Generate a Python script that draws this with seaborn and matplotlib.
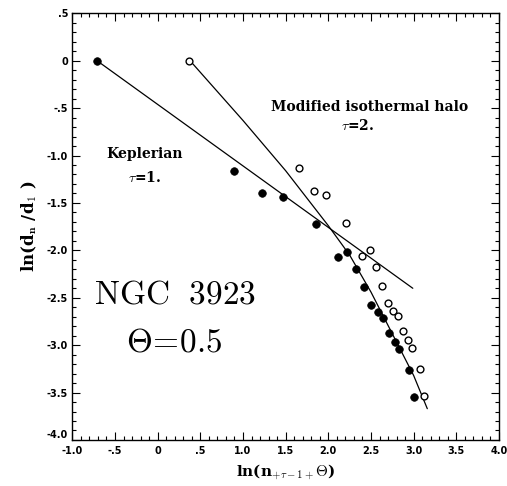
import numpy as np
import pandas as pd
import seaborn as sns
import matplotlib.pyplot as plt
from matplotlib.ticker import MultipleLocator, FixedLocator

# Keplerian (tau=1), filled circles
kep_x = [-0.71, 0.89, 1.22, 1.47, 1.85, 2.11, 2.22, 2.33, 2.42, 2.50, 2.58, 2.64, 2.71, 2.78, 2.83, 2.94, 3.00]
kep_y = [0.00, -1.16, -1.40, -1.44, -1.72, -2.07, -2.02, -2.20, -2.39, -2.58, -2.65, -2.71, -2.87, -2.97, -3.04, -3.26, -3.55]

# Modified isothermal halo (tau=2), open circles
iso_x = [0.37, 1.66, 1.83, 1.97, 2.21, 2.40, 2.49, 2.56, 2.63, 2.70, 2.76, 2.82, 2.88, 2.93, 2.98, 3.07, 3.12]
iso_y = [0.00, -1.13, -1.37, -1.42, -1.71, -2.06, -2.00, -2.18, -2.38, -2.56, -2.64, -2.69, -2.85, -2.95, -3.03, -3.25, -3.54]

# fit lines
kep_fit_x = [-0.71, 2.99]
kep_fit_y = [0.00, -2.40]
iso_fit_x = [0.38, 1.0, 1.5, 2.0, 2.25, 2.5, 2.75, 3.0, 3.16]
iso_fit_y = [0.00, -0.63, -1.16, -1.74, -2.05, -2.44, -2.88, -3.32, -3.67]

x_ticks = [-1.0, -0.5, 0.0, 0.5, 1.0, 1.5, 2.0, 2.5, 3.0, 3.5, 4.0]
x_labels = ["-1.0", "-.5", "0", ".5", "1.0", "1.5", "2.0", "2.5", "3.0", "3.5", "4.0"]
y_ticks = [0.5, 0.0, -0.5, -1.0, -1.5, -2.0, -2.5, -3.0, -3.5, -4.0]
y_labels = [".5", "0", "-.5", "-1.0", "-1.5", "-2.0", "-2.5", "-3.0", "-3.5", "-4.0"]

sns.set_style("ticks")
plt.rcParams['font.family'] = ['DejaVu Serif']
plt.rcParams['mathtext.fontset'] = 'cm'
for key in ['text.color', 'axes.labelcolor', 'xtick.color', 'ytick.color', 'axes.edgecolor']:
    plt.rcParams[key] = 'black'

fig = plt.figure(figsize=(5.07, 4.86), dpi=100)
ax = fig.add_axes([0.1426, 0.0947, 0.8416, 0.8779])

kep = pd.DataFrame({"x": kep_x, "y": kep_y})
iso = pd.DataFrame({"x": iso_x, "y": iso_y})

sns.lineplot(x=kep_fit_x, y=kep_fit_y, ax=ax, color="black", lw=0.9, sort=False, estimator=None)
sns.lineplot(x=iso_fit_x, y=iso_fit_y, ax=ax, color="black", lw=0.9, sort=False, estimator=None)
sns.scatterplot(data=kep, x="x", y="y", ax=ax, color="black", s=30, edgecolor="black", linewidth=0.5, zorder=3)
sns.scatterplot(data=iso, x="x", y="y", ax=ax, facecolor="white", s=24, edgecolor="black", linewidth=1.0, zorder=3)

ax.set_xlim(-1.0, 4.0)
ax.set_ylim(-4.0, 0.5)
ax.xaxis.set_major_locator(FixedLocator(x_ticks))
ax.yaxis.set_major_locator(FixedLocator(y_ticks))
ax.set_xticklabels(x_labels, family="DejaVu Sans", weight="bold", fontsize=7)
ax.set_yticklabels(y_labels, family="DejaVu Sans", weight="bold", fontsize=7)
ax.xaxis.set_minor_locator(MultipleLocator(0.1))
ax.yaxis.set_minor_locator(MultipleLocator(0.1))
ax.tick_params(which="both", direction="in", top=True, right=True, width=0.8)
ax.tick_params(which="major", length=6)
ax.tick_params(axis="x", which="major", pad=4)
ax.tick_params(axis="y", which="major", pad=3)
ax.tick_params(which="minor", length=3)
# lift the bottom y label a bit so it clears the -1.0 x label
ax.get_yticklabels()[-1].set_verticalalignment("bottom")
for sp in ax.spines.values():
    sp.set_linewidth(1.0)

ax.set_xlabel(r"ln(n$_{+\tau-1+}$$\mathbf{\Theta}$)", fontsize=11, weight="bold", labelpad=5)
ax.set_ylabel(r"ln(d$_\mathbf{n}$ /d$_\mathbf{1}$ )", fontsize=12, weight="bold", labelpad=6)

ax.text(2.48, -0.49, "Modified isothermal halo", ha="center", va="center", fontsize=10, weight="bold")
ax.text(2.34, -0.68, r"$\tau$=2.", ha="center", va="center", fontsize=10, weight="bold")
ax.text(-0.15, -0.985, "Keplerian", ha="center", va="center", fontsize=10, weight="bold")
ax.text(-0.15, -1.23, r"$\tau$=1.", ha="center", va="center", fontsize=10, weight="bold")
ax.text(0.20, -2.47, r"$\mathrm{NGC\ \ 3923}$", ha="center", va="center", fontsize=24)
ax.text(0.19, -2.97, r"$\Theta\!=\!0.5$", ha="center", va="center", fontsize=24)

fig.savefig("out.png", dpi=100)
